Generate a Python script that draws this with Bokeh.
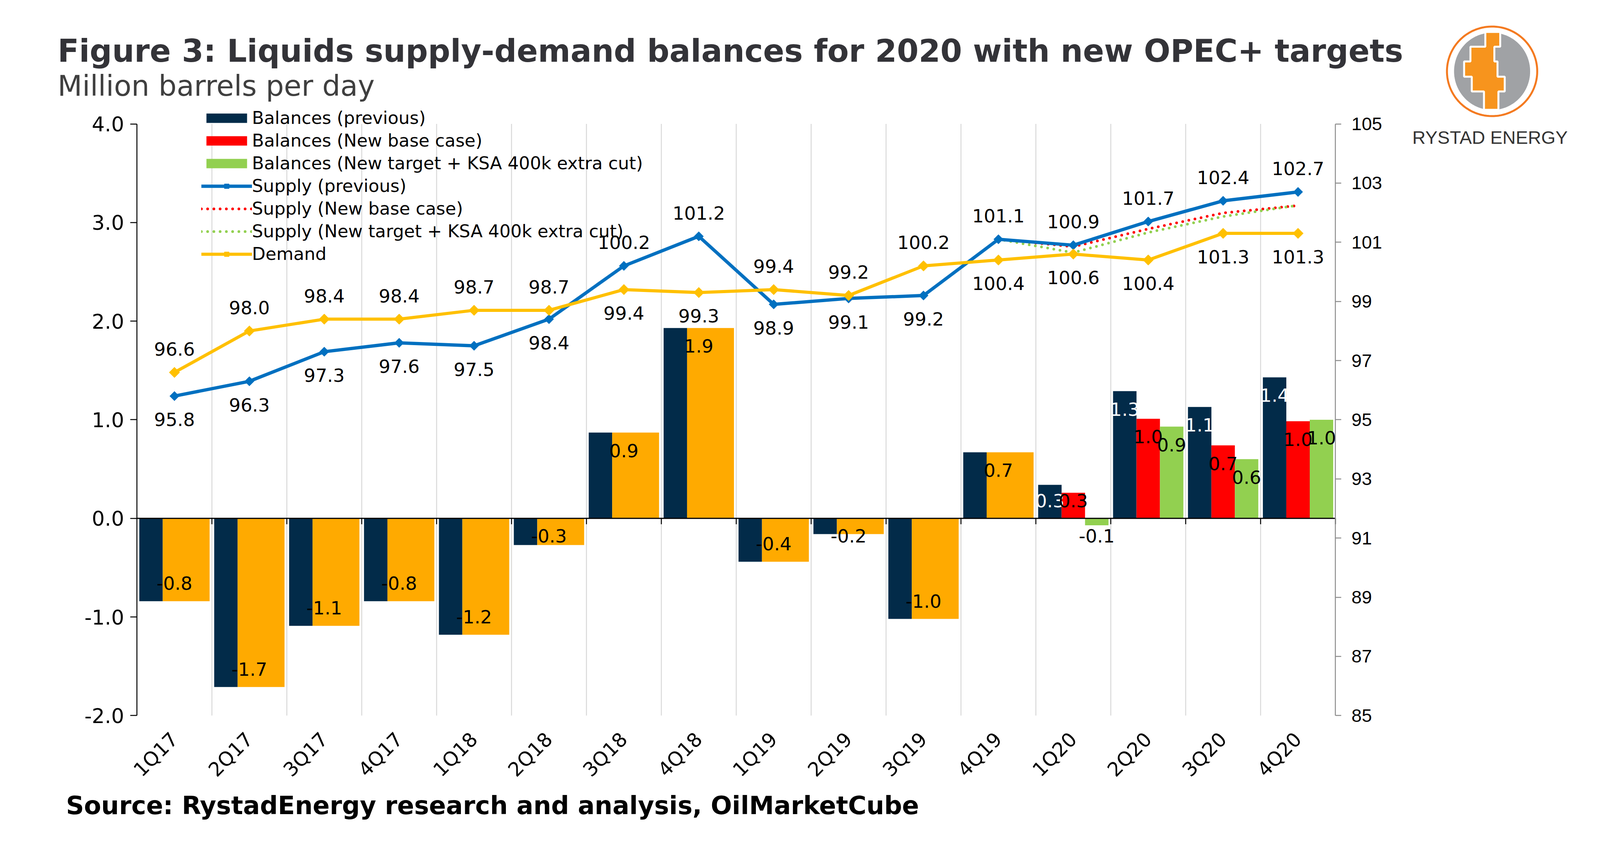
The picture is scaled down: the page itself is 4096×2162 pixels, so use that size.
import numpy as np
from bokeh.plotting import figure
from bokeh.models import (Range1d, LinearAxis, FixedTicker, Label, Legend, LegendItem,
                          ColumnDataSource, NumeralTickFormatter)
from bokeh.core.properties import value
from bokeh.embed import file_html
from bokeh.resources import INLINE

# ---------------- data ----------------
quarters = ["1Q17", "2Q17", "3Q17", "4Q17", "1Q18", "2Q18", "3Q18", "4Q18",
            "1Q19", "2Q19", "3Q19", "4Q19", "1Q20", "2Q20", "3Q20", "4Q20"]
balances_previous = [-0.84, -1.71, -1.09, -0.84, -1.18, -0.27, 0.87, 1.93,
                     -0.44, -0.16, -1.02, 0.67, 0.34, 1.29, 1.13, 1.43]
quarters_history = quarters[:12]
balances_history = [-0.84, -1.71, -1.09, -0.84, -1.18, -0.27, 0.87, 1.93,
                    -0.44, -0.16, -1.02, 0.67]
quarters_2020 = ["1Q20", "2Q20", "3Q20", "4Q20"]
balances_new_base = [0.26, 1.01, 0.74, 0.985]
balances_new_target = [-0.07, 0.93, 0.60, 1.00]
supply_previous = [95.8, 96.3, 97.3, 97.6, 97.5, 98.4, 100.2, 101.2,
                   98.9, 99.1, 99.2, 101.1, 100.9, 101.7, 102.4, 102.7]
quarters_new_supply = ["4Q19", "1Q20", "2Q20", "3Q20", "4Q20"]
supply_new_base = [101.1, 100.85, 101.45, 101.99, 102.24]
supply_new_target = [101.1, 100.65, 101.33, 101.87, 102.25]
demand = [96.6, 98.0, 98.4, 98.4, 98.7, 98.7, 99.4, 99.3,
          99.4, 99.2, 100.2, 100.4, 100.6, 100.4, 101.3, 101.3]
left_ticks = [-2, -1, 0, 1, 2, 3, 4]
right_ticks = [85, 87, 89, 91, 93, 95, 97, 99, 101, 103, 105]

# label sides (style)
supply_label_side = ["below"] * 6 + ["above", "above", "below", "below", "below"] + ["above"] * 5
demand_label_side = ["above"] * 6 + ["below", "below", "above", "above", "above"] + ["below"] * 5

# ---------------- layout ----------------
S = 0.963
W, H = 4080, 2146


def fx(xr):  # reference px -> figure px
    return xr * S - 8


def fy(yr):
    return yr * S - 8


AX_L, AX_R, AX_T, AX_B = fx(372), fx(3558), fy(337), fy(1909)
NCAT = len(quarters)
PXX = (AX_R - AX_L) / NCAT
PXY = (AX_B - AX_T) / 6.0
PXR = (AX_B - AX_T) / 20.0


def dx(X):  # figure px -> x data
    return (X - AX_L) / PXX


def dy(Y):  # figure px -> left y data
    return 4 - (Y - AX_T) / PXY


BW = 0.313
NAVY = "#022B49"
ORANGE = "#FFAA00"
RED = "#FF0000"
GREEN = "#92D050"
BLUE = "#0070C0"
YELLOW = "#FFC000"
LBL_FONT = "DejaVu Sans"
LBL_SIZE = "47px"

idx = {q: i for i, q in enumerate(quarters)}


def centers(qs):
    return [idx[q] + 0.5 for q in qs]


p = figure(width=W, height=H, min_border=0,
           x_range=Range1d(-AX_L / PXX, NCAT + (W - AX_R) / PXX),
           y_range=Range1d(-2 - (H - AX_B) / PXY, 4 + AX_T / PXY),
           x_axis_location=None, y_axis_location=None,
           output_backend="svg", toolbar_location=None)
p.extra_y_ranges = {"right": Range1d(85 - (H - AX_B) / PXR, 105 + AX_T / PXR)}
p.outline_line_color = None
p.background_fill_color = "white"
p.border_fill_color = "white"
p.grid.visible = False

# vertical grid lines at category boundaries
bnd = list(range(1, NCAT))
p.segment(x0=bnd, x1=bnd, y0=[-2] * len(bnd), y1=[4] * len(bnd), line_color="#D9D9D9", line_width=2.5)

# bottom axis (category labels)
xa = LinearAxis(fixed_location=-2, ticker=FixedTicker(ticks=centers(quarters)))
xa.major_label_overrides = {c: q for c, q in zip(centers(quarters), quarters)}
xa.major_label_orientation = np.pi / 4
xa.axis_line_color = None
xa.major_tick_line_color = None
xa.minor_tick_line_color = None
xa.major_label_text_font = LBL_FONT
xa.major_label_text_font_size = "50px"
xa.major_label_text_color = "black"
xa.major_label_standoff = 46
p.add_layout(xa, "below")

# left axis
ya = LinearAxis(fixed_location=0, bounds=(-2, 4), ticker=FixedTicker(ticks=left_ticks),
                formatter=NumeralTickFormatter(format="0.0"))
ya.axis_line_color = "black"
ya.axis_line_width = 2.5
ya.major_tick_line_color = "black"
ya.major_tick_line_width = 2.5
ya.major_tick_out = 17
ya.major_tick_in = 0
ya.minor_tick_line_color = None
ya.major_label_text_font = LBL_FONT
ya.major_label_text_font_size = "52px"
ya.major_label_text_color = "black"
ya.major_label_standoff = 16
p.add_layout(ya, "left")

# right axis
ra = LinearAxis(y_range_name="right", fixed_location=NCAT, bounds=(85, 105),
                ticker=FixedTicker(ticks=right_ticks))
ra.axis_line_color = "#8C8C8C"
ra.axis_line_width = 2.5
ra.major_tick_line_color = "#8C8C8C"
ra.major_tick_line_width = 2.5
ra.major_tick_out = 15
ra.major_tick_in = 0
ra.minor_tick_line_color = None
ra.major_label_text_font = "Liberation Sans"
ra.major_label_text_font_size = "47px"
ra.major_label_text_color = "black"
ra.major_label_standoff = 26
p.add_layout(ra, "right")

# ---------------- bars ----------------
src_prev = ColumnDataSource(dict(x=[c - BW for c in centers(quarters)], top=balances_previous))
src_hist = ColumnDataSource(dict(x=[c + BW / 2 for c in centers(quarters_history)], top=balances_history))
src_base = ColumnDataSource(dict(x=centers(quarters_2020), top=balances_new_base))
src_tgt = ColumnDataSource(dict(x=[c + BW for c in centers(quarters_2020)], top=balances_new_target))

r_prev = p.vbar(x="x", top="top", bottom=0, width=BW, source=src_prev, fill_color=NAVY, line_color=None)
r_hist = p.vbar(x="x", top="top", bottom=0, width=2 * BW, source=src_hist, fill_color=ORANGE, line_color=None)
r_base = p.vbar(x="x", top="top", bottom=0, width=BW, source=src_base, fill_color=RED, line_color=None)
r_tgt = p.vbar(x="x", top="top", bottom=0, width=BW, source=src_tgt, fill_color=GREEN, line_color=None)

# zero line (category axis line) with ticks at category boundaries
p.segment(x0=[0], x1=[NCAT], y0=[0], y1=[0], line_color="black", line_width=3)
tb = list(range(1, NCAT + 1))
p.segment(x0=tb, x1=tb, y0=[0] * len(tb), y1=[-15 / PXY] * len(tb), line_color="black", line_width=2.5)


# bar labels ("inside end")
def bar_label_y(vals):
    inner = 46.0 / PXY
    floor = 45.0 / PXY
    return [float(np.sign(v)) * max(abs(v) - inner, floor) for v in vals]


def fmt(vals):
    return ["%.1f" % v for v in vals]


def add_text(xs, ys, texts, color, y_range_name="default", y_offset=0):
    yo = y_offset if isinstance(y_offset, list) else [y_offset] * len(xs)
    src = ColumnDataSource(dict(x=xs, y=ys, t=texts, yo=yo))
    p.text(x="x", y="y", text="t", y_offset="yo", source=src, text_align="center", text_baseline="middle",
           text_font=value(LBL_FONT), text_font_size=LBL_SIZE, text_color=color, y_range_name=y_range_name)


add_text(centers(quarters_history), bar_label_y(balances_history), fmt(balances_history), "black")
add_text([c - BW for c in centers(quarters_2020)], bar_label_y(balances_previous[12:]),
         fmt(balances_previous[12:]), "white")
add_text(centers(quarters_2020), bar_label_y(balances_new_base), fmt(balances_new_base), "black")
add_text([c + BW for c in centers(quarters_2020)], bar_label_y(balances_new_target), fmt(balances_new_target), "black")

# ---------------- lines ----------------
r_sb = p.line(centers(quarters_new_supply), supply_new_base, y_range_name="right", line_color=RED,
              line_width=7, line_dash="0 16", line_cap="round")
r_st = p.line(centers(quarters_new_supply), supply_new_target, y_range_name="right", line_color=GREEN,
              line_width=7, line_dash="0 16", line_cap="round")
r_sp_l = p.line(centers(quarters), supply_previous, y_range_name="right", line_color=BLUE, line_width=8.5,
                line_join="round")
r_sp_m = p.scatter(centers(quarters), supply_previous, y_range_name="right", marker="square", angle=np.pi / 4,
                   size=17, fill_color=BLUE, line_color=BLUE)
r_d_l = p.line(centers(quarters), demand, y_range_name="right", line_color=YELLOW, line_width=8,
               line_join="round")
r_d_m = p.scatter(centers(quarters), demand, y_range_name="right", marker="square", angle=np.pi / 4,
                  size=19, fill_color=YELLOW, line_color=YELLOW)

OFF = 60
add_text(centers(quarters), supply_previous, fmt(supply_previous), "black", "right",
         [-OFF if s == "above" else OFF for s in supply_label_side])
add_text(centers(quarters), demand, fmt(demand), "black", "right",
         [-OFF if s == "above" else OFF for s in demand_label_side])

# ---------------- legend ----------------
legend = Legend(items=[
    LegendItem(label="Balances (previous)", renderers=[r_prev]),
    LegendItem(label="Balances (New base case)", renderers=[r_base]),
    LegendItem(label="Balances (New target + KSA 400k extra cut)", renderers=[r_tgt]),
    LegendItem(label="Supply (previous)", renderers=[r_sp_l, r_sp_m]),
    LegendItem(label="Supply (New base case)", renderers=[r_sb]),
    LegendItem(label="Supply (New target + KSA 400k extra cut)", renderers=[r_st]),
    LegendItem(label="Demand", renderers=[r_d_l, r_d_m]),
], location=(fx(550) - 6.6, H - (fy(670) + 39)), orientation="vertical", glyph_width=130, glyph_height=30,
    label_standoff=0, spacing=5, padding=0, margin=0, border_line_color=None,
    background_fill_alpha=0, label_text_font=LBL_FONT, label_text_font_size="45px",
    label_text_color="black")
p.add_layout(legend)

# ---------------- titles ----------------
p.add_layout(Label(x=dx(fx(161)), y=dy(fy(162) - 18),
                   text="Figure 3: Liquids supply-demand balances for 2020 with new OPEC+ targets",
                   text_font="DejaVu Sans", text_font_style="bold", text_font_size="80px",
                   text_color="#333338", text_baseline="alphabetic", text_align="left"))
p.add_layout(Label(x=dx(fx(161)), y=dy(fy(252) - 16),
                   text="Million barrels per day",
                   text_font="DejaVu Sans", text_font_size="73px",
                   text_color="#3F3F3F", text_baseline="alphabetic", text_align="left"))
p.add_layout(Label(x=dx(fx(175) + 8), y=dy(fy(2163) - 14),
                   text="Source: RystadEnergy research and analysis, OilMarketCube",
                   text_font="DejaVu Sans", text_font_style="bold", text_font_size="64px",
                   text_color="black", text_baseline="alphabetic", text_align="left"))
p.add_layout(Label(x=dx(fx(3754) + 8), y=dy(fy(383) - 10),
                   text="RYSTAD ENERGY", text_font="Liberation Sans", text_font_size="47px",
                   text_color="#333333", text_baseline="alphabetic", text_align="left"))

# ---------------- logo (decorative) ----------------
cxp, cyp = fx(3966) + 8, fy(189) + 8
rx, ry = 120 * S, 119 * S
t = np.linspace(0, 2 * np.pi, 120)


def to_data(us, vs):
    return [dx(cxp + rx * u) for u in us], [dy(cyp - ry * v) for v in vs]


xs, ys = to_data(np.cos(t), np.sin(t))
p.patch(xs, ys, fill_color="white", line_color="#F47A20", line_width=5)
xs, ys = to_data(0.86 * np.cos(t), 0.88 * np.sin(t))
p.patch(xs, ys, fill_color="#A0A2A5", line_color="white", line_width=4)
steps = [(0.88, 0.55, -0.15, 0.18), (0.55, 0.22, -0.48, 0.05), (0.22, -0.12, -0.62, 0.12),
         (-0.12, -0.45, -0.45, 0.28), (-0.45, -0.86, -0.18, 0.14)]
right_pts, left_pts = [], []
for v0, v1, lft, rgt in steps:
    right_pts += [(rgt, v0), (rgt, v1)]
    left_pts += [(lft, v0), (lft, v1)]
poly = right_pts + left_pts[::-1]
xs, ys = to_data([u for u, v in poly], [v for u, v in poly])
p.patch(xs, ys, fill_color="#F7941D", line_color="white", line_width=5)

open("out.html", "w").write(file_html(p, INLINE))
